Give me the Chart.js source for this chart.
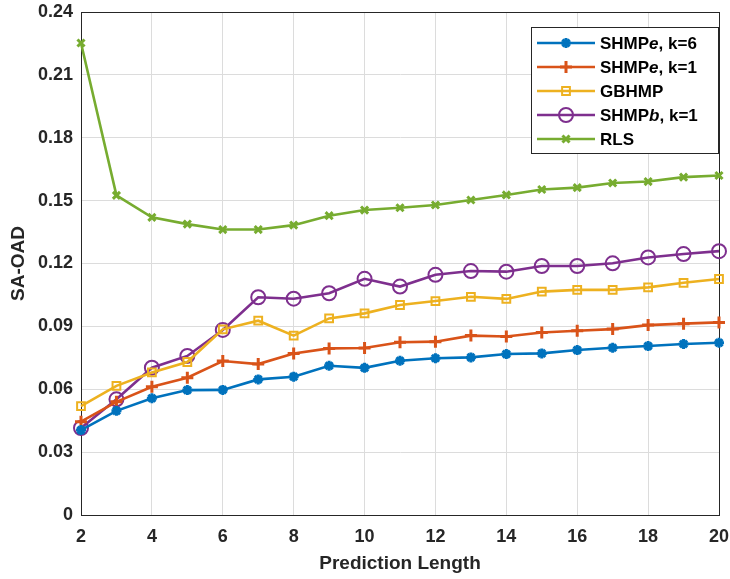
<!DOCTYPE html>
<html>
<head>
<meta charset="utf-8">
<script src="https://cdn.jsdelivr.net/npm/chart.js@4.4.1/dist/chart.umd.min.js"></script>
<style>
  html, body { margin: 0; padding: 0; background: #fff; }
  #wrap { width: 730px; height: 579px; position: relative; }
</style>
</head>
<body>
<div id="wrap"><canvas id="c" width="730" height="579"></canvas></div>
<script>
// prediction length on the x axis
const lengths = [2, 3, 4, 5, 6, 7, 8, 9, 10, 11, 12, 13, 14, 15, 16, 17, 18, 19, 20];

// legend names, *x* = italic part
const names = ['SHMP*e*, k=6', 'SHMP*e*, k=1', 'GBHMP', 'SHMP*b*, k=1', 'RLS'];

const shmpE6 = [0.0405, 0.0497, 0.0557, 0.0596, 0.0597, 0.0647, 0.0660, 0.0712, 0.0702, 0.0736, 0.0748, 0.0752, 0.0768, 0.0771, 0.0787, 0.0798, 0.0806, 0.0816, 0.0822];
const shmpE1 = [0.0445, 0.0540, 0.0612, 0.0655, 0.0735, 0.0720, 0.0771, 0.0795, 0.0797, 0.0824, 0.0827, 0.0856, 0.0852, 0.0871, 0.0879, 0.0887, 0.0906, 0.0913, 0.0919];
const gbhmp = [0.0520, 0.0616, 0.0680, 0.0730, 0.0886, 0.0927, 0.0856, 0.0938, 0.0962, 0.1002, 0.1021, 0.1041, 0.1031, 0.1066, 0.1074, 0.1074, 0.1086, 0.1108, 0.1126];
const shmpB1 = [0.0415, 0.0552, 0.0703, 0.0759, 0.0883, 0.1039, 0.1032, 0.1058, 0.1127, 0.1090, 0.1146, 0.1164, 0.1161, 0.1188, 0.1188, 0.1201, 0.1229, 0.1245, 0.1259];
const rls = [0.2252, 0.1525, 0.1420, 0.1388, 0.1362, 0.1362, 0.1383, 0.1428, 0.1455, 0.1466, 0.1479, 0.1503, 0.1527, 0.1553, 0.1562, 0.1584, 0.1591, 0.1612, 0.1620];

const yTicks = [0, 0.03, 0.06, 0.09, 0.12, 0.15, 0.18, 0.21, 0.24];
const xTicks = [2, 4, 6, 8, 10, 12, 14, 16, 18, 20];

const colors = ['#0072BD', '#D95319', '#EDB120', '#7E2F8E', '#77AC30'];
const markers = ['star', 'cross', 'rect', 'circle', 'crossRot'];
const markerSize = [5, 6, 5.5, 7, 5];
const series = [shmpE6, shmpE1, gbhmp, shmpB1, rls];

const FONT = '"Liberation Sans", Arial, Helvetica, sans-serif';
const TXT = '#262626';

const datasets = series.map((vals, i) => ({
  label: names[i].replace(/\*/g, ''),
  data: vals.map((v, j) => ({ x: lengths[j], y: v })),
  borderColor: colors[i],
  borderWidth: 2.6,
  pointStyle: markers[i],
  pointRadius: markerSize[i],
  pointBorderWidth: (markers[i] === 'star' || markers[i] === 'cross' || markers[i] === 'crossRot') ? 3 : 2,
  pointBackgroundColor: 'rgba(0,0,0,0)',
  pointBorderColor: colors[i],
  tension: 0,
  fill: false,
  clip: false
}));

// box around the plot area + MATLAB style legend with italic letters
const boxAndLegend = {
  id: 'boxAndLegend',
  beforeDatasetsDraw(chart) {
    const ctx = chart.ctx;
    const a = chart.chartArea;
    ctx.save();
    ctx.strokeStyle = TXT;
    ctx.lineWidth = 1;
    ctx.strokeRect(Math.round(a.left) + 0.5, Math.round(a.top) + 0.5,
      Math.round(a.right - a.left), Math.round(a.bottom - a.top));
    ctx.restore();
  },
  afterDraw(chart) {
    const ctx = chart.ctx;
    ctx.save();
    const lx = 531, ly = 27, lw = 187, lh = 126;
    ctx.fillStyle = '#fff';
    ctx.fillRect(lx, ly, lw, lh);
    ctx.strokeStyle = TXT;
    ctx.lineWidth = 1;
    ctx.strokeRect(lx + 0.5, ly + 0.5, lw, lh);

    chart.data.datasets.forEach((ds, i) => {
      const cy = ly + 16 + i * 24;
      ctx.strokeStyle = ds.borderColor;
      ctx.lineWidth = 2.6;
      ctx.beginPath();
      ctx.moveTo(lx + 6, cy);
      ctx.lineTo(lx + 64, cy);
      ctx.stroke();
      ctx.fillStyle = 'rgba(0,0,0,0)';
      ctx.lineWidth = ds.pointBorderWidth;
      Chart.helpers.drawPoint(ctx, { pointStyle: ds.pointStyle, radius: ds.pointRadius, borderWidth: ds.pointBorderWidth, rotation: 0 }, lx + 35, cy);

      // text with italic parts
      let tx = lx + 69;
      ctx.fillStyle = '#000';
      ctx.textBaseline = 'middle';
      names[i].split('*').forEach((part, k) => {
        ctx.font = (k % 2 ? 'italic bold ' : 'bold ') + '17px ' + FONT;
        ctx.fillText(part, tx, cy + 1);
        tx += ctx.measureText(part).width;
      });
    });
    ctx.restore();
  }
};

new Chart(document.getElementById('c'), {
  type: 'line',
  data: { datasets },
  options: {
    responsive: false,
    animation: false,
    events: [],
    layout: { padding: { top: 12, right: 11, left: 0, bottom: 0 } },
    plugins: {
      legend: { display: false },
      tooltip: { enabled: false }
    },
    scales: {
      x: {
        type: 'linear',
        min: 2, max: 20,
        afterBuildTicks: s => { s.ticks = xTicks.map(v => ({ value: v })); },
        afterFit: s => { s.height = 64; s.paddingLeft = 0; s.paddingRight = 0; },
        grid: { color: '#dcdcdc', lineWidth: 1, drawTicks: false },
        border: { display: true, color: TXT, width: 1 },
        ticks: { color: TXT, padding: 11, font: { family: FONT, size: 18, weight: 'bold' }, maxRotation: 0 },
        title: { display: true, text: 'Prediction Length', color: TXT, padding: { top: 0, bottom: 4 }, font: { family: FONT, size: 19, weight: 'bold' } }
      },
      y: {
        min: 0, max: 0.24,
        afterBuildTicks: s => { s.ticks = yTicks.map(v => ({ value: v })); },
        afterFit: s => { s.width = 81; s.paddingTop = 0; s.paddingBottom = 0; },
        grid: { color: '#dcdcdc', lineWidth: 1, drawTicks: false },
        border: { display: true, color: TXT, width: 1 },
        ticks: {
          color: TXT, padding: 8,
          font: { family: FONT, size: 18, weight: 'bold' },
          callback: v => v === 0 ? '0' : v.toFixed(2)
        },
        title: { display: true, text: 'SA-OAD', color: TXT, padding: { top: 7, bottom: 0 }, font: { family: FONT, size: 19, weight: 'bold' } }
      }
    }
  },
  plugins: [boxAndLegend]
});
</script>
</body>
</html>
